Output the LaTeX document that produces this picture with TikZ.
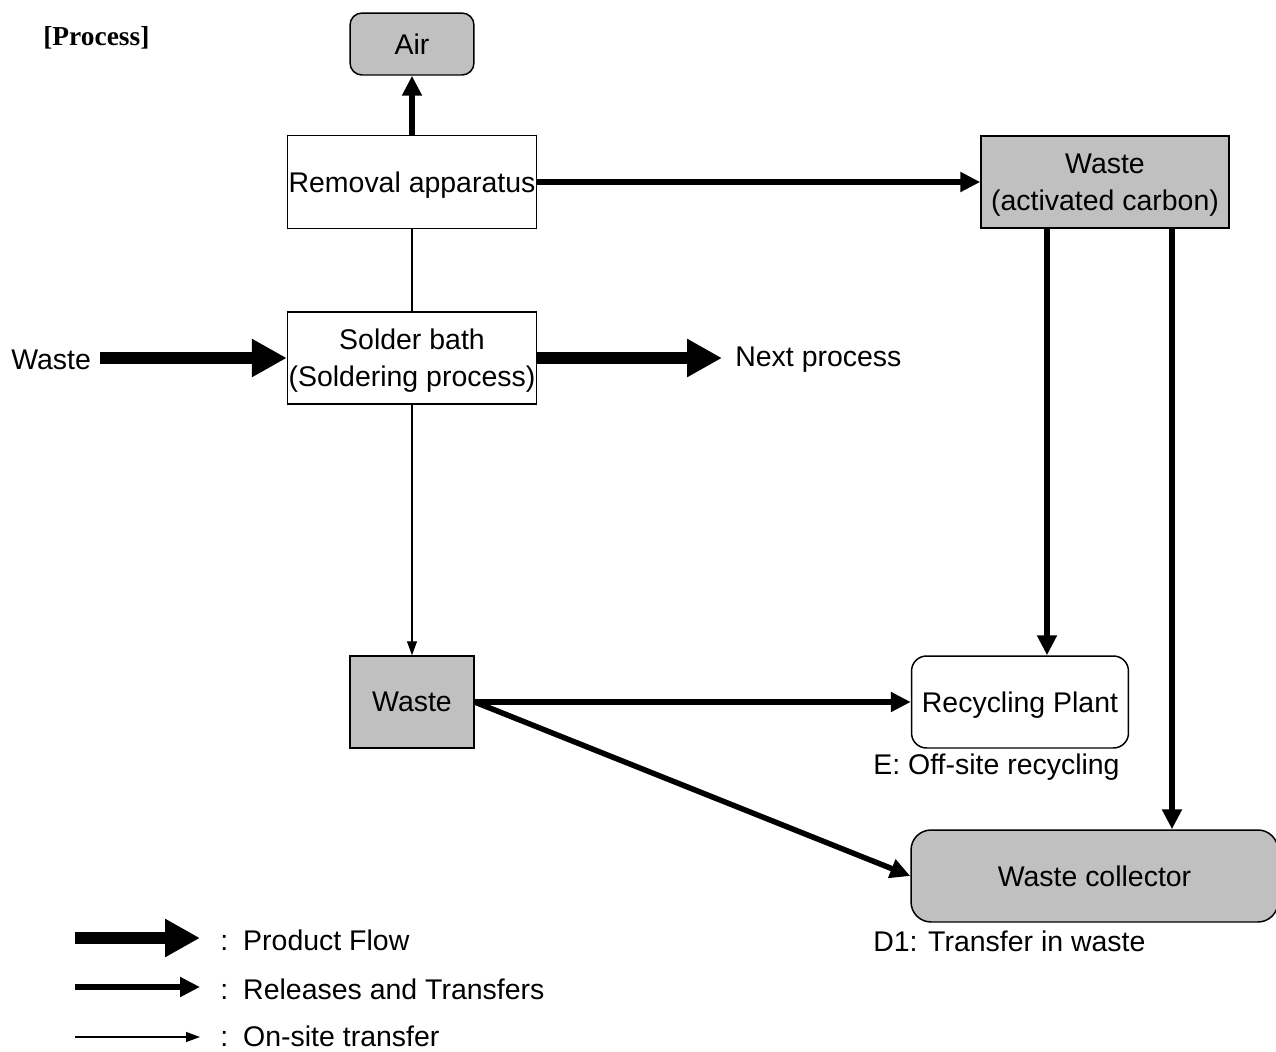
\documentclass[tikz,border=0pt]{standalone}
\usepackage{fontspec}
\setmainfont{Liberation Sans}
\newfontfamily\timesfont{Liberation Serif}
\usetikzlibrary{arrows.meta,positioning}
\definecolor{boxgrey}{HTML}{C0C0C0}

\begin{document}
\begin{tikzpicture}[x=0.02cm,y=-0.02cm,
		font=\fontsize{16.2}{21}\selectfont,
		box/.style={draw,line width=0.85pt,inner sep=0pt,align=center,text depth=0pt},
		greybox/.style={box,fill=boxgrey},
		lbl/.style={inner sep=0pt,anchor=west},
		prodflow/.style={line width=0.25cm,-{Triangle[length=0.7cm,width=0.72cm]}},
		release/.style={line width=0.11cm,-{Triangle[length=0.4cm,width=0.38cm]}},
		onsite/.style={line width=0.6pt,-{Triangle[length=0.28cm,width=0.2cm]}}]
		\useasboundingbox (0,0) rectangle (1276,1052);
		% boxes
		\node[greybox,rounded corners=0.24cm,minimum width=2.48cm,minimum height=1.24cm] (air) at (412,44) {Air};
		\node[box,minimum width=4.98cm,minimum height=1.86cm] (removal) at (412,182) {Removal apparatus};
		\node[box,minimum width=4.98cm,minimum height=1.84cm] (solder) at (412,358) {Solder bath\\(Soldering process)};
		\node[greybox,minimum width=4.96cm,minimum height=1.84cm] (carbon) at (1105,182) {Waste\\(activated carbon)};
		\node[greybox,minimum width=2.48cm,minimum height=1.84cm] (waste) at (412,702) {Waste};
		\node[box,rounded corners=0.3cm,minimum width=4.34cm,minimum height=1.84cm] (recycle) at (1020,702) {Recycling Plant};
		\node[greybox,rounded corners=0.4cm,minimum width=7.34cm,minimum height=1.84cm] (collector) at (1094.5,876) {Waste collector};
		% plain labels
		\node[lbl,font=\timesfont\bfseries\fontsize{15.6}{18}\selectfont] (title) at (43,38) {[Process]};
		\node[lbl] (input) at (11,360) {Waste};
		\node[lbl] (next) at (735,360) {Next process};
		\node[lbl] (elabel) at (873,767) {E: Off-site recycling};
		\node[lbl] (dlabel) at (873,941) {D1: Transfer in waste};
		% flows
		\draw[release] (removal) -- (air);
		\draw[release] (removal) -- (carbon);
		\draw[line width=0.6pt] (removal) -- (solder);
		\draw[prodflow,shorten <=0.18cm] (input.east |- solder) -- (solder);
		\draw[prodflow,shorten >=0.26cm] (solder) -- (solder -| next.west);
		\draw[onsite] (solder) -- (waste);
		\draw[release] ([xshift=-1.16cm]carbon.south) -- ([xshift=-1.16cm]carbon.south |- recycle.north);
		\draw[release] ([xshift=1.34cm]carbon.south) -- ([xshift=1.34cm]carbon.south |- collector.north);
		\draw[release] (waste) -- (recycle);
		\draw[release] (waste.east) -- (collector.west);
		% legend
		\node[lbl] (lprod) at (220,940) {:\hspace{0.3cm}Product Flow};
		\node[lbl] (lrel) at (220,989) {:\hspace{0.3cm}Releases and Transfers};
		\node[lbl] (lsite) at (220,1036) {:\hspace{0.3cm}On-site transfer};
		\coordinate (prodstart) at (75,938);
		\coordinate (relstart) at (75,987);
		\coordinate (sitestart) at (75,1037);
		\draw[prodflow,shorten >=0.4cm] (prodstart) -- (prodstart -| lprod.west);
		\draw[release,shorten >=0.4cm] (relstart) -- (relstart -| lrel.west);
		\draw[onsite,shorten >=0.4cm] (sitestart) -- (sitestart -| lsite.west);
\end{tikzpicture}
\end{document}
